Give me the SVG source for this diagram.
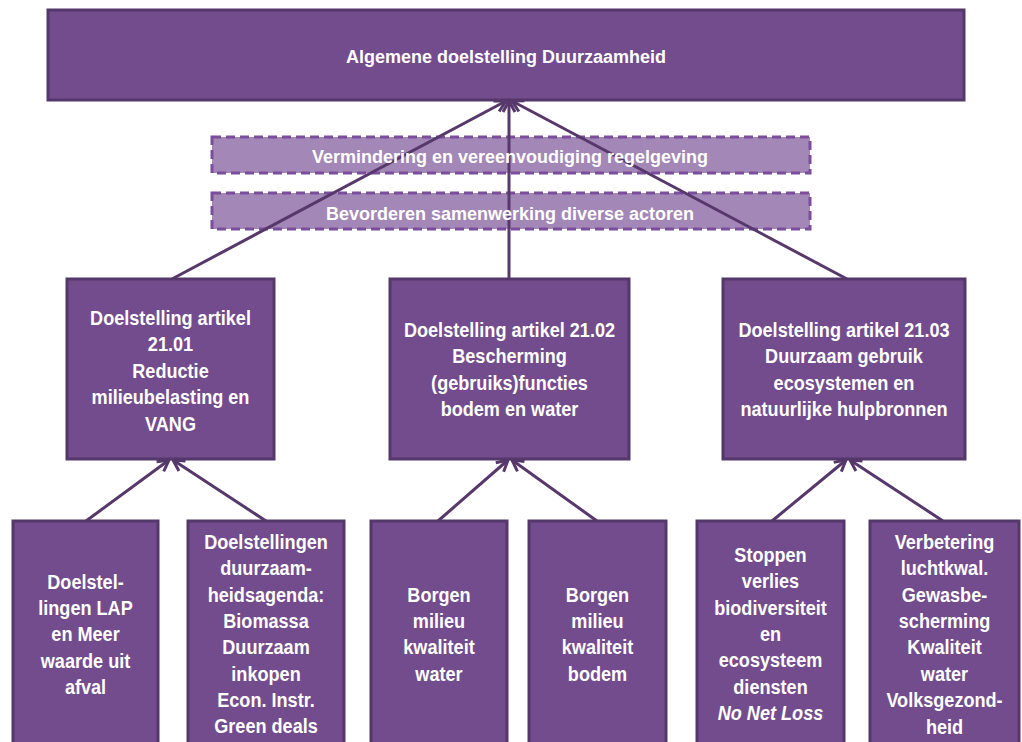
<svg xmlns="http://www.w3.org/2000/svg" width="1022" height="742" viewBox="0 0 1022 742">
<style>
.box{fill:#734c8e;stroke:#55386b;stroke-width:3}
.dbox{fill:#a387b6;stroke:#7a4e9c;stroke-width:3;stroke-dasharray:9 5}
.t{font-family:"Liberation Sans",Arial,sans-serif;font-weight:bold;fill:#ffffff;text-anchor:middle;font-size:18px}
.n{font-family:"Liberation Sans",Arial,sans-serif;font-weight:bold;fill:#ffffff;text-anchor:middle;font-size:20px}
.con{stroke:#56386b;stroke-width:3;fill:none;marker-end:url(#arr)}
</style>
<defs>
<marker id="arr" markerUnits="userSpaceOnUse" markerWidth="18" markerHeight="18" refX="13" refY="8" orient="auto">
<path d="M2,2 L13,8 L2,14" fill="none" stroke="#56386b" stroke-width="3"/>
</marker>
</defs>
<rect width="1022" height="742" fill="#ffffff"/>
<g id="top">
<rect class="box" x="48" y="10" width="916" height="90"/>
<text class="t" x="506" y="63">Algemene doelstelling Duurzaamheid</text>
</g>
<g id="dashed1">
<rect class="dbox" x="212" y="137" width="598" height="36"/>
</g>
<g id="dashed2">
<rect class="dbox" x="212" y="193" width="598" height="36"/>
</g>
<g id="connectors">
<line class="con" x1="172" y1="279" x2="506" y2="101"/>
<line class="con" x1="509" y1="279" x2="509" y2="101"/>
<line class="con" x1="847" y1="279" x2="512" y2="101"/>
<line class="con" x1="86" y1="521" x2="169" y2="460"/>
<line class="con" x1="266" y1="521" x2="173" y2="460"/>
<line class="con" x1="438" y1="521" x2="508" y2="460"/>
<line class="con" x1="597" y1="521" x2="512" y2="460"/>
<line class="con" x1="772" y1="521" x2="846" y2="460"/>
<line class="con" x1="943" y1="521" x2="850" y2="460"/>
</g>
<g id="dashed1-label">
<text class="t" x="510" y="163">Vermindering en vereenvoudiging regelgeving</text>
</g>
<g id="dashed2-label">
<text class="t" x="510" y="219.5">Bevorderen samenwerking diverse actoren</text>
</g>
<g id="mid1">
<rect class="box" x="67" y="279" width="207" height="180"/>
<g transform="translate(170.5,0) scale(0.905,1)">
<text class="n" x="0" y="325">Doelstelling artikel</text>
<text class="n" x="0" y="351.5">21.01</text>
<text class="n" x="0" y="378">Reductie</text>
<text class="n" x="0" y="404.5">milieubelasting en</text>
<text class="n" x="0" y="431">VANG</text>
</g>
</g>
<g id="mid2">
<rect class="box" x="390" y="279" width="239" height="180"/>
<g transform="translate(509.5,0) scale(0.905,1)">
<text class="n" x="0" y="337">Doelstelling artikel 21.02</text>
<text class="n" x="0" y="363.5">Bescherming</text>
<text class="n" x="0" y="390">(gebruiks)functies</text>
<text class="n" x="0" y="416.5">bodem en water</text>
</g>
</g>
<g id="mid3">
<rect class="box" x="723" y="279" width="242" height="180"/>
<g transform="translate(844,0) scale(0.905,1)">
<text class="n" x="0" y="337">Doelstelling artikel 21.03</text>
<text class="n" x="0" y="363.5">Duurzaam gebruik</text>
<text class="n" x="0" y="390">ecosystemen en</text>
<text class="n" x="0" y="416.5">natuurlijke hulpbronnen</text>
</g>
</g>
<g id="b1">
<rect class="box" x="13" y="521" width="145" height="240"/>
<g transform="translate(85.5,0) scale(0.905,1)">
<text class="n" x="0" y="589">Doelstel-</text>
<text class="n" x="0" y="615">lingen LAP</text>
<text class="n" x="0" y="641">en Meer</text>
<text class="n" x="0" y="668">waarde uit</text>
<text class="n" x="0" y="694">afval</text>
</g>
</g>
<g id="b2">
<rect class="box" x="188" y="521" width="156" height="240"/>
<g transform="translate(266,0) scale(0.905,1)">
<text class="n" x="0" y="549">Doelstellingen</text>
<text class="n" x="0" y="575.5">duurzaam-</text>
<text class="n" x="0" y="602">heidsagenda:</text>
<text class="n" x="0" y="628">Biomassa</text>
<text class="n" x="0" y="654.5">Duurzaam</text>
<text class="n" x="0" y="681">inkopen</text>
<text class="n" x="0" y="707">Econ. Instr.</text>
<text class="n" x="0" y="733">Green deals</text>
</g>
</g>
<g id="b3">
<rect class="box" x="371" y="521" width="136" height="240"/>
<g transform="translate(439,0) scale(0.905,1)">
<text class="n" x="0" y="602">Borgen</text>
<text class="n" x="0" y="628">milieu</text>
<text class="n" x="0" y="654.5">kwaliteit</text>
<text class="n" x="0" y="681">water</text>
</g>
</g>
<g id="b4">
<rect class="box" x="529" y="521" width="137" height="240"/>
<g transform="translate(597.5,0) scale(0.905,1)">
<text class="n" x="0" y="602">Borgen</text>
<text class="n" x="0" y="628">milieu</text>
<text class="n" x="0" y="654.5">kwaliteit</text>
<text class="n" x="0" y="681">bodem</text>
</g>
</g>
<g id="b5">
<rect class="box" x="697" y="521" width="147" height="240"/>
<g transform="translate(770.5,0) scale(0.905,1)">
<text class="n" x="0" y="562">Stoppen</text>
<text class="n" x="0" y="588.5">verlies</text>
<text class="n" x="0" y="615">biodiversiteit</text>
<text class="n" x="0" y="641">en</text>
<text class="n" x="0" y="667.5">ecosysteem</text>
<text class="n" x="0" y="694">diensten</text>
<text class="n" x="0" y="720" font-style="italic">No Net Loss</text>
</g>
</g>
<g id="b6">
<rect class="box" x="870" y="521" width="149" height="240"/>
<g transform="translate(944.5,0) scale(0.905,1)">
<text class="n" x="0" y="549">Verbetering</text>
<text class="n" x="0" y="575.5">luchtkwal.</text>
<text class="n" x="0" y="602">Gewasbe-</text>
<text class="n" x="0" y="628">scherming</text>
<text class="n" x="0" y="654.5">Kwaliteit</text>
<text class="n" x="0" y="681">water</text>
<text class="n" x="0" y="707">Volksgezond-</text>
<text class="n" x="0" y="734">heid</text>
</g>
</g>
</svg>
